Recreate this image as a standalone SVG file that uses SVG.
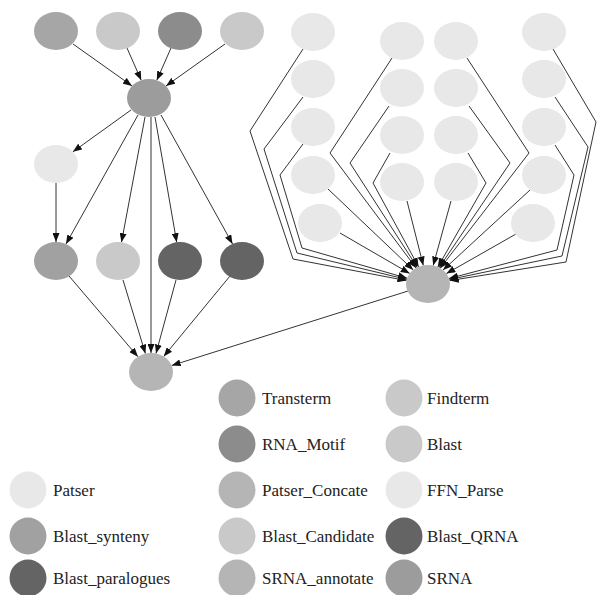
<svg xmlns="http://www.w3.org/2000/svg" width="597" height="595" viewBox="0 0 597 595">
  <style>
    .edge { fill: none; stroke: #333; stroke-width: 1; marker-end: url(#arrow); }
    .n { stroke: none; }
    .label { font-family: "Liberation Serif", "Times New Roman", serif; font-size: 17px; fill: #222; }
    .transterm { fill: #a6a6a6; }
    .findterm { fill: #c9c9c9; }
    .rnamotif { fill: #8c8c8c; }
    .blast { fill: #c9c9c9; }
    .patser { fill: #e8e8e8; }
    .ffn { fill: #e8e8e8; }
    .concate { fill: #b5b5b5; }
    .candidate { fill: #c9c9c9; }
    .annotate { fill: #b5b5b5; }
    .qrna { fill: #646464; }
    .srna { fill: #9c9c9c; }
    .synteny { fill: #a1a1a1; }
    .paralogues { fill: #646464; }
  </style>
  <defs>
    <marker id="arrow" markerUnits="userSpaceOnUse" markerWidth="9" markerHeight="7" refX="9" refY="3.5" orient="auto">
      <path d="M0,0 L9,3.5 L0,7 z" fill="#111"/>
    </marker>
  </defs>
  <rect width="597" height="595" fill="#fff"/>

  <!-- connectors -->
  <g id="edges">
    <!-- left pipeline -->
    <path class="edge" d="M73,44 L132,85.9"/>
    <path class="edge" d="M127,48 L141.2,80.2"/>
    <path class="edge" d="M171,48 L156.8,80.2"/>
    <path class="edge" d="M225,44 L166,85.9"/>
    <path class="edge" d="M131,110 L72.9,151.8"/>
    <path class="edge" d="M56,183 L56,242"/>
    <path class="edge" d="M138,115 L66,244"/>
    <path class="edge" d="M145,117 L121.5,242.2"/>
    <path class="edge" d="M151,117 L151,353"/>
    <path class="edge" d="M155,117 L176.7,242.2"/>
    <path class="edge" d="M161,115 L232.5,243.9"/>
    <path class="edge" d="M69,276 L137.9,356.7"/>
    <path class="edge" d="M123,280 L145.4,353.6"/>
    <path class="edge" d="M176,280 L156,353.5"/>
    <path class="edge" d="M230,276 L163.7,356.5"/>
    <path class="edge" d="M408,291 L171.7,365.5"/>
    <!-- right fan-in -->
    <path class="edge" d="M303,49 L250,131 L293,259 L406.5,280.6"/>
    <path class="edge" d="M303,97 L264,149 L297,253 L406.8,279.4"/>
    <path class="edge" d="M303,144 L280,175 L302,248 L407.1,278.2"/>
    <path class="edge" d="M328,189 L413.2,269.9"/>
    <path class="edge" d="M340,233 L409.7,273.4"/>
    <path class="edge" d="M392,58 L330,153 L416.1,268"/>
    <path class="edge" d="M389,106 L350,163 L417.3,267.4"/>
    <path class="edge" d="M390,153 L373,183 L418.6,266.8"/>
    <path class="edge" d="M407,201 L423.3,265.5"/>
    <path class="edge" d="M451,201 L433.2,265.5"/>
    <path class="edge" d="M468,153 L486,183 L437.8,267"/>
    <path class="edge" d="M469,106 L510,163 L439.1,267.6"/>
    <path class="edge" d="M467,58 L529,153 L440.2,268.2"/>
    <path class="edge" d="M553,49 L596,122 L566,262 L449.6,280.6"/>
    <path class="edge" d="M555,97 L588,147 L562,256 L449.4,279.5"/>
    <path class="edge" d="M555,145 L574,175 L557,250 L449,278.5"/>
    <path class="edge" d="M530,190 L443,270.1"/>
    <path class="edge" d="M516,234 L446.4,273.6"/>
  </g>

  <!-- left pipeline nodes -->
  <g id="transterm1"><ellipse class="n transterm" cx="56" cy="31" rx="22" ry="19"/></g>
  <g id="findterm1"><ellipse class="n findterm" cx="118" cy="31" rx="22" ry="19"/></g>
  <g id="rnamotif1"><ellipse class="n rnamotif" cx="180" cy="31" rx="22" ry="19"/></g>
  <g id="blast1"><ellipse class="n blast" cx="242" cy="31" rx="22" ry="19"/></g>
  <g id="srna1"><ellipse class="n srna" cx="149" cy="98" rx="22" ry="19"/></g>
  <g id="patser1"><ellipse class="n patser" cx="56" cy="164" rx="22" ry="19"/></g>
  <g id="synteny1"><ellipse class="n synteny" cx="56" cy="261" rx="22" ry="19"/></g>
  <g id="candidate1"><ellipse class="n candidate" cx="118" cy="261" rx="22" ry="19"/></g>
  <g id="qrna1"><ellipse class="n qrna" cx="180" cy="261" rx="22" ry="19"/></g>
  <g id="paralogues1"><ellipse class="n paralogues" cx="242" cy="261" rx="22" ry="19"/></g>
  <g id="annotate1"><ellipse class="n annotate" cx="151" cy="372" rx="22" ry="19"/></g>

  <!-- right fan-in nodes -->
  <g id="p_c1r1"><ellipse class="n patser" cx="313" cy="32" rx="22" ry="19"/></g>
  <g id="p_c1r2"><ellipse class="n patser" cx="313" cy="79" rx="22" ry="19"/></g>
  <g id="p_c1r3"><ellipse class="n patser" cx="313" cy="127" rx="22" ry="19"/></g>
  <g id="p_c1r4"><ellipse class="n patser" cx="313" cy="175" rx="22" ry="19"/></g>
  <g id="p_c1r5"><ellipse class="n patser" cx="320" cy="223" rx="22" ry="19"/></g>
  <g id="p_c2r1"><ellipse class="n patser" cx="402" cy="41" rx="22" ry="19"/></g>
  <g id="p_c2r2"><ellipse class="n patser" cx="402" cy="88" rx="22" ry="19"/></g>
  <g id="p_c2r3"><ellipse class="n patser" cx="402" cy="135" rx="22" ry="19"/></g>
  <g id="p_c2r4"><ellipse class="n patser" cx="402" cy="182" rx="22" ry="19"/></g>
  <g id="p_c3r1"><ellipse class="n patser" cx="456" cy="41" rx="22" ry="19"/></g>
  <g id="p_c3r2"><ellipse class="n patser" cx="456" cy="88" rx="22" ry="19"/></g>
  <g id="p_c3r3"><ellipse class="n patser" cx="456" cy="135" rx="22" ry="19"/></g>
  <g id="p_c3r4"><ellipse class="n patser" cx="456" cy="182" rx="22" ry="19"/></g>
  <g id="p_c4r1"><ellipse class="n patser" cx="544" cy="32" rx="22" ry="19"/></g>
  <g id="p_c4r2"><ellipse class="n patser" cx="544" cy="79" rx="22" ry="19"/></g>
  <g id="p_c4r3"><ellipse class="n patser" cx="544" cy="127" rx="22" ry="19"/></g>
  <g id="p_c4r4"><ellipse class="n patser" cx="544" cy="175" rx="22" ry="19"/></g>
  <g id="p_c4r5"><ellipse class="n patser" cx="533" cy="223" rx="22" ry="19"/></g>
  <g id="concate1"><ellipse class="n concate" cx="428" cy="284" rx="22" ry="19"/></g>

  <!-- legend -->
  <g id="legend">
    <g id="lg_transterm"><circle class="transterm" cx="237" cy="398" r="18.5"/><text class="label" x="262" y="404">Transterm</text></g>
    <g id="lg_findterm"><circle class="findterm" cx="404" cy="398" r="18.5"/><text class="label" x="427" y="404">Findterm</text></g>
    <g id="lg_rnamotif"><circle class="rnamotif" cx="237" cy="444" r="18.5"/><text class="label" x="262" y="450">RNA_Motif</text></g>
    <g id="lg_blast"><circle class="blast" cx="404" cy="444" r="18.5"/><text class="label" x="427" y="450">Blast</text></g>
    <g id="lg_patser"><circle class="patser" cx="28" cy="490" r="18.5"/><text class="label" x="53" y="496">Patser</text></g>
    <g id="lg_concate"><circle class="concate" cx="237" cy="490" r="18.5"/><text class="label" x="262" y="496">Patser_Concate</text></g>
    <g id="lg_ffn"><circle class="ffn" cx="404" cy="490" r="18.5"/><text class="label" x="427" y="496">FFN_Parse</text></g>
    <g id="lg_synteny"><circle class="synteny" cx="28" cy="536" r="18.5"/><text class="label" x="53" y="542">Blast_synteny</text></g>
    <g id="lg_candidate"><circle class="candidate" cx="237" cy="536" r="18.5"/><text class="label" x="262" y="542">Blast_Candidate</text></g>
    <g id="lg_qrna"><circle class="qrna" cx="404" cy="536" r="18.5"/><text class="label" x="427" y="542">Blast_QRNA</text></g>
    <g id="lg_paralogues"><circle class="paralogues" cx="28" cy="578" r="18.5"/><text class="label" x="53" y="584">Blast_paralogues</text></g>
    <g id="lg_annotate"><circle class="annotate" cx="237" cy="578" r="18.5"/><text class="label" x="262" y="584">SRNA_annotate</text></g>
    <g id="lg_srna"><circle class="srna" cx="404" cy="578" r="18.5"/><text class="label" x="427" y="584">SRNA</text></g>
  </g>
</svg>
